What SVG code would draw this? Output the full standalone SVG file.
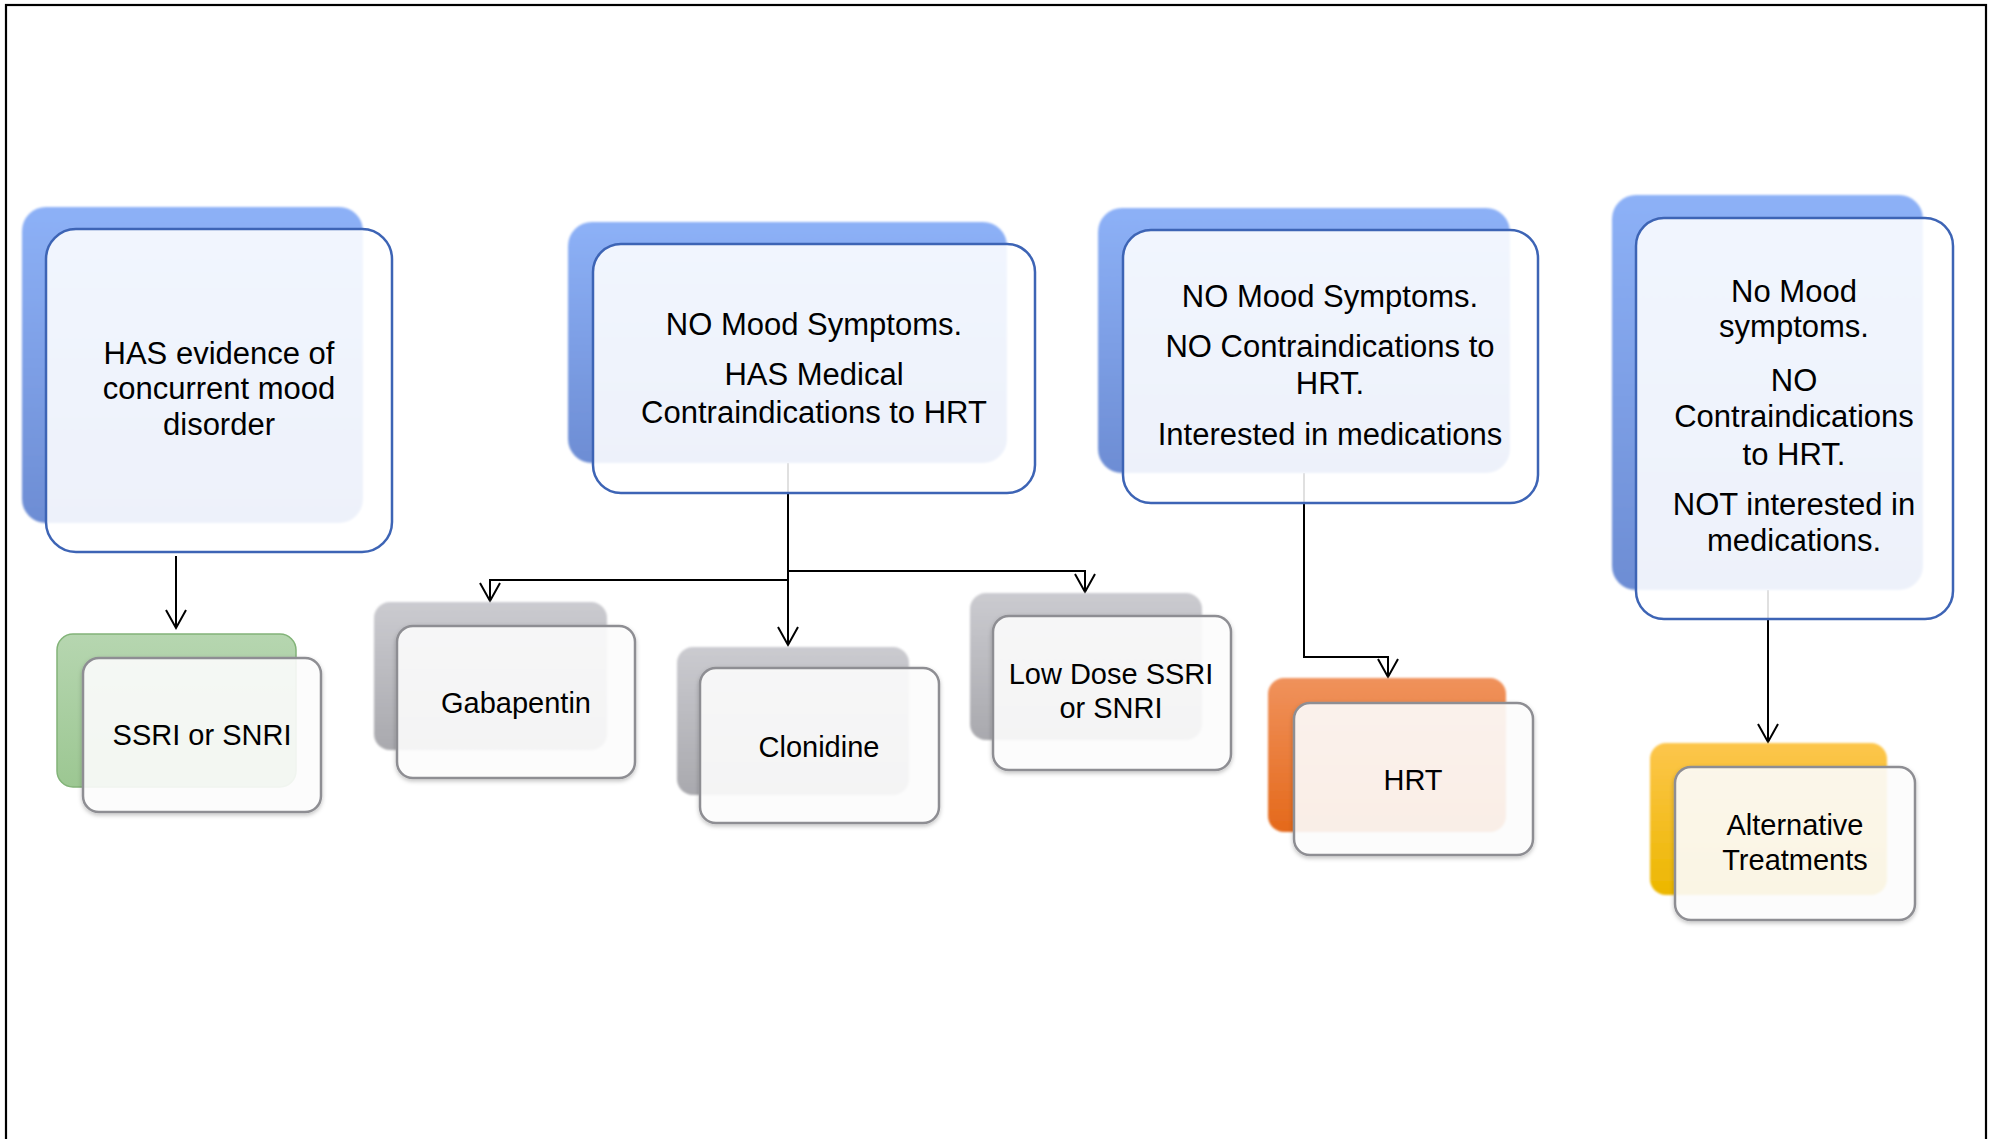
<svg xmlns="http://www.w3.org/2000/svg" width="1995" height="1139" viewBox="0 0 1995 1139">
<defs>
<linearGradient id="gBlue" x1="0" y1="0" x2="0" y2="1"><stop offset="0" stop-color="#8db1f7"/><stop offset="1" stop-color="#6d8dd4"/></linearGradient>
<linearGradient id="gGray" x1="0" y1="0" x2="0" y2="1"><stop offset="0" stop-color="#cbcbd0"/><stop offset="1" stop-color="#a9a9ae"/></linearGradient>
<linearGradient id="gGreen" x1="0" y1="0" x2="0" y2="1"><stop offset="0" stop-color="#b6d6b0"/><stop offset="1" stop-color="#9cc792"/></linearGradient>
<linearGradient id="gOrange" x1="0" y1="0" x2="0" y2="1"><stop offset="0" stop-color="#f0925c"/><stop offset="1" stop-color="#e4691b"/></linearGradient>
<linearGradient id="gYellow" x1="0" y1="0" x2="0" y2="1"><stop offset="0" stop-color="#fdc64c"/><stop offset="1" stop-color="#ecb700"/></linearGradient>
<filter id="soft" x="-5%" y="-5%" width="110%" height="110%"><feGaussianBlur stdDeviation="1.3"/></filter>
<filter id="shadow" x="-5%" y="-5%" width="115%" height="115%"><feDropShadow dx="0" dy="2" stdDeviation="2" flood-color="#000" flood-opacity="0.25"/></filter>
<marker id="arr" viewBox="-1 -1 22 22" refX="18" refY="10" markerWidth="22" markerHeight="22" markerUnits="userSpaceOnUse" orient="auto"><path d="M0,0 L18,10 L0,20" fill="none" stroke="#000" stroke-width="2"/></marker>
</defs>
<style>
.frame{fill:none;stroke:#000;stroke-width:2.2}
.bb{fill:url(#gBlue);filter:url(#soft)}
.bg{fill:url(#gGray);filter:url(#soft)}
.bgr{fill:url(#gGreen);stroke:#82b378;stroke-width:1.5}
.bo{fill:url(#gOrange);filter:url(#soft)}
.by{fill:url(#gYellow);filter:url(#soft)}
.ft{fill:#fff;fill-opacity:0.88;stroke:#3d64b5;stroke-width:2.5}
.fc{fill:#fff;fill-opacity:0.88;stroke:#8e8e93;stroke-width:2.5;filter:url(#shadow)}
.t{font-family:"Liberation Sans",Arial,sans-serif;font-size:31px;fill:#000;text-anchor:middle}
.tc{font-family:"Liberation Sans",Arial,sans-serif;font-size:29px;fill:#000;text-anchor:middle}
.cn{fill:none;stroke:#000;stroke-width:2}
</style>
<rect x="0" y="0" width="1995" height="1139" fill="#fff"/>
<rect class="frame" x="6" y="5" width="1980" height="1150"/>
<g id="connectors">
<path class="cn" d="M176,556 V628" marker-end="url(#arr)"/>
<path class="cn" d="M788,463 V645" marker-end="url(#arr)"/>
<path class="cn" d="M788,580 H490 V601" marker-end="url(#arr)"/>
<path class="cn" d="M788,571 H1085 V592" marker-end="url(#arr)"/>
<path class="cn" d="M1304,473 V657 H1388 V677" marker-end="url(#arr)"/>
<path class="cn" d="M1768,590 V742" marker-end="url(#arr)"/>
</g>
<g id="node-mood">
<rect class="bb" x="22" y="207" width="341" height="316" rx="24"/>
<rect class="ft" x="46" y="229" width="346" height="323" rx="30"/>
<text class="t" x="219" y="364">HAS evidence of</text>
<text class="t" x="219" y="399">concurrent mood</text>
<text class="t" x="219" y="435">disorder</text>
</g>
<g id="node-contra">
<rect class="bb" x="568" y="222" width="439" height="241" rx="24"/>
<rect class="ft" x="593" y="244" width="442" height="249" rx="28"/>
<text class="t" x="814" y="335">NO Mood Symptoms.</text>
<text class="t" x="814" y="385">HAS Medical</text>
<text class="t" x="814" y="423">Contraindications to HRT</text>
</g>
<g id="node-meds">
<rect class="bb" x="1098" y="208" width="412" height="265" rx="24"/>
<rect class="ft" x="1123" y="230" width="415" height="273" rx="28"/>
<text class="t" x="1330" y="307">NO Mood Symptoms.</text>
<text class="t" x="1330" y="357">NO Contraindications to</text>
<text class="t" x="1330" y="394">HRT.</text>
<text class="t" x="1330" y="445">Interested in medications</text>
</g>
<g id="node-nomeds">
<rect class="bb" x="1612" y="195" width="311" height="395" rx="24"/>
<rect class="ft" x="1636" y="218" width="317" height="401" rx="28"/>
<text class="t" x="1794" y="302">No Mood</text>
<text class="t" x="1794" y="337">symptoms.</text>
<text class="t" x="1794" y="391">NO</text>
<text class="t" x="1794" y="427">Contraindications</text>
<text class="t" x="1794" y="465">to HRT.</text>
<text class="t" x="1794" y="515">NOT interested in</text>
<text class="t" x="1794" y="551">medications.</text>
</g>
<g id="node-ssri">
<rect class="bgr" x="57" y="634" width="239" height="153" rx="16"/>
<rect class="fc" x="83" y="658" width="238" height="154" rx="16"/>
<text class="tc" x="202" y="745">SSRI or SNRI</text>
</g>
<g id="node-gabapentin">
<rect class="bg" x="374" y="602" width="233" height="148" rx="16"/>
<rect class="fc" x="397" y="626" width="238" height="152" rx="16"/>
<text class="tc" x="516" y="713">Gabapentin</text>
</g>
<g id="node-clonidine">
<rect class="bg" x="677" y="647" width="232" height="148" rx="16"/>
<rect class="fc" x="700" y="668" width="239" height="155" rx="16"/>
<text class="tc" x="819" y="757">Clonidine</text>
</g>
<g id="node-lowdose">
<rect class="bg" x="970" y="593" width="232" height="147" rx="16"/>
<rect class="fc" x="993" y="616" width="238" height="154" rx="16"/>
<text class="tc" x="1111" y="684">Low Dose SSRI</text>
<text class="tc" x="1111" y="718">or SNRI</text>
</g>
<g id="node-hrt">
<rect class="bo" x="1268" y="678" width="238" height="154" rx="16"/>
<rect class="fc" x="1294" y="703" width="239" height="152" rx="16"/>
<text class="tc" x="1413" y="790">HRT</text>
</g>
<g id="node-alt">
<rect class="by" x="1650" y="743" width="237" height="152" rx="16"/>
<rect class="fc" x="1675" y="767" width="240" height="153" rx="16"/>
<text class="tc" x="1795" y="835">Alternative</text>
<text class="tc" x="1795" y="870">Treatments</text>
</g>
</svg>
